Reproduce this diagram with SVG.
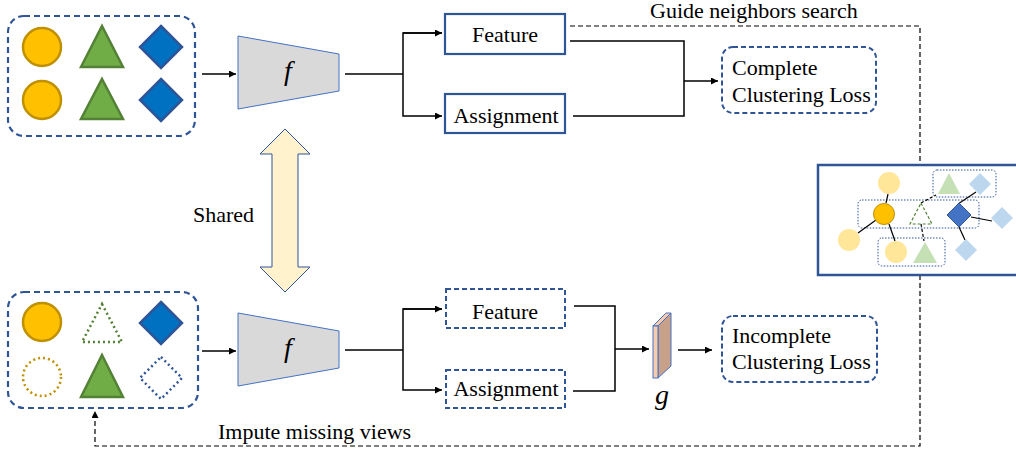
<svg xmlns="http://www.w3.org/2000/svg" width="1016" height="453" viewBox="0 0 1016 453" font-family="'Liberation Serif', 'Times New Roman', serif">
<defs>
<marker id="ah" viewBox="0 0 10 10" refX="10" refY="5" markerWidth="7" markerHeight="7" markerUnits="userSpaceOnUse" orient="auto"><path d="M0,0 L10,5 L0,10 z" fill="#000"/></marker>
<style>
text{font-family:'Liberation Serif','Times New Roman',serif;font-size:22px;fill:#000}
text.it{font-style:italic;font-size:28px}
.grp{fill:none;stroke:#2F5597;stroke-width:2.2;stroke-dasharray:6,4}
.sbox{fill:#fff;stroke:#2F5597;stroke-width:2.2}
.dbox{fill:#fff;stroke:#2F5597;stroke-width:2;stroke-dasharray:5,3}
.circ{fill:#FFC000;stroke:#BF9000;stroke-width:2.5}
.tri{fill:#70AD47;stroke:#538135;stroke-width:2.5}
.dia{fill:#0070C0;stroke:#2F5597;stroke-width:2.5}
.dcirc{fill:none;stroke:#BF9000;stroke-width:2.5;stroke-dasharray:2,3}
.dtri{fill:none;stroke:#538135;stroke-width:2.5;stroke-dasharray:2,3}
.ddia{fill:none;stroke:#2F5597;stroke-width:2.5;stroke-dasharray:2,3}
.trap{fill:#D9D9D9;stroke:#4472C4;stroke-width:1}
.ln{fill:none;stroke:#000;stroke-width:1.5}
.dl{fill:none;stroke:#000;stroke-width:1.2;stroke-dasharray:5,3}
.ly{fill:#FFE699}
.lg{fill:#C5E0B4}
.lb{fill:#BDD7EE}
.dr{fill:none;stroke:#2F5597;stroke-width:1;stroke-dasharray:1.5,1.5}
.gl{stroke:#000;stroke-width:1.2}
.gd{stroke:#000;stroke-width:1.2;stroke-dasharray:3,2}
</style>
</defs>

<g id="connectors">
<line class="ln" x1="202" y1="74" x2="236" y2="74" marker-end="url(#ah)"/>
<polyline class="ln" points="345,74 403,74"/>
<polyline class="ln" points="442,33 403,33 403,116 442,116" marker-end="url(#ah)"/>
<line class="ln" x1="403" y1="33" x2="442" y2="33" marker-end="url(#ah)"/>
<polyline class="ln" points="570,41 684,41 684,116 573,116"/>
<line class="ln" x1="684" y1="81" x2="718" y2="81" marker-end="url(#ah)"/>
<polyline class="dl" points="570,26 920,26 920,165"/>
<polyline class="dl" points="920,275 920,446 95,446 95,411" marker-end="url(#ah)"/>
<line class="ln" x1="202" y1="351" x2="236" y2="351" marker-end="url(#ah)"/>
<polyline class="ln" points="345,350 403,350"/>
<polyline class="ln" points="442,309 403,309 403,390 442,390" marker-end="url(#ah)"/>
<line class="ln" x1="403" y1="309" x2="442" y2="309" marker-end="url(#ah)"/>
<polyline class="ln" points="574,306 615,306 615,391 573,391"/>
<line class="ln" x1="615" y1="349" x2="649" y2="349" marker-end="url(#ah)"/>
<line class="ln" x1="678" y1="350" x2="712" y2="350" marker-end="url(#ah)"/>
<text x="650" y="18" font-family="'Liberation Serif', serif" font-size="22">Guide neighbors search</text>
<text x="218" y="439" font-family="'Liberation Serif', serif" font-size="22">Impute missing views</text>
</g>

<g id="input-complete">
<rect class="grp" x="8" y="16" width="187" height="120" rx="16"/>
<circle class="circ" cx="42" cy="47" r="19"/>
<polygon class="tri" points="102,26 123,67 81,67"/>
<polygon class="dia" points="161,26 182,47 161,68 140,47"/>
<circle class="circ" cx="42" cy="100" r="19"/>
<polygon class="tri" points="102,79 123,119 81,119"/>
<polygon class="dia" points="161,79 182,100 161,121 140,100"/>
</g>

<g id="input-incomplete">
<rect class="grp" x="8" y="292" width="190" height="116" rx="16"/>
<circle class="circ" cx="42" cy="322" r="19"/>
<polygon class="dtri" points="102,304 122,342 82,342"/>
<polygon class="dia" points="161,302 182,323 161,344 140,323"/>
<circle class="dcirc" cx="42" cy="377" r="19"/>
<polygon class="tri" points="102,355 123,397 81,397"/>
<polygon class="ddia" points="161,357 182,378 161,399 140,378"/>
</g>

<g id="encoder-top">
<polygon class="trap" points="238,36 339,54 339,91 238,109"/>
<text class="it" x="288" y="80" text-anchor="middle" font-family="'Liberation Serif', serif" font-style="italic" font-size="28">f</text>
</g>
<g id="encoder-bottom">
<polygon class="trap" points="238,313 339,331 339,368 238,386"/>
<text class="it" x="288" y="357" text-anchor="middle" font-family="'Liberation Serif', serif" font-style="italic" font-size="28">f</text>
</g>

<g id="shared">
<polygon points="285,129 310,154 298,154 298,267 310,267 285,292 260,267 272,267 272,154 260,154" fill="#FFF2CC" stroke="#2F5597" stroke-width="1"/>
<text x="193" y="222" font-family="'Liberation Serif', serif" font-size="22">Shared</text>
</g>

<g id="feature-top">
<rect class="sbox" x="445" y="14" width="120" height="40"/>
<text x="505" y="42" text-anchor="middle" font-family="'Liberation Serif', serif" font-size="22">Feature</text>
</g>
<g id="assignment-top">
<rect class="sbox" x="445" y="94" width="120" height="39"/>
<text x="506" y="123" text-anchor="middle" font-family="'Liberation Serif', serif" font-size="22">Assignment</text>
</g>
<g id="complete-loss">
<rect class="dbox" x="722" y="47" width="154" height="66" rx="11"/>
<text x="732" y="75" font-family="'Liberation Serif', serif" font-size="22">Complete</text>
<text x="732" y="102" font-family="'Liberation Serif', serif" font-size="22">Clustering Loss</text>
</g>

<g id="feature-bottom">
<rect class="dbox" x="446" y="289" width="119" height="39"/>
<text x="505" y="319" text-anchor="middle" font-family="'Liberation Serif', serif" font-size="22">Feature</text>
</g>
<g id="assignment-bottom">
<rect class="dbox" x="446" y="370" width="119" height="38"/>
<text x="506" y="396" text-anchor="middle" font-family="'Liberation Serif', serif" font-size="22">Assignment</text>
</g>

<g id="g-block">
<polygon points="653,326 658,326 671,313 666,313" fill="#F8CBAD" stroke="#4472C4" stroke-width="1"/>
<polygon points="658,326 671,313 671,366 658,378" fill="#C9A08A" stroke="#4472C4" stroke-width="1"/>
<rect x="653" y="326" width="5" height="52" fill="#F8CBAD" stroke="#4472C4" stroke-width="1"/>
<text class="it" x="662" y="404" text-anchor="middle" font-family="'Liberation Serif', serif" font-style="italic" font-size="28">g</text>
</g>

<g id="incomplete-loss">
<rect class="dbox" x="722" y="316" width="155" height="66" rx="11"/>
<text x="732" y="343" font-family="'Liberation Serif', serif" font-size="22">Incomplete</text>
<text x="732" y="369" font-family="'Liberation Serif', serif" font-size="22">Clustering Loss</text>
</g>

<g id="neighbor-graph">
<rect x="818" y="165" width="200" height="110" fill="#fff" stroke="#2F5597" stroke-width="2.5"/>
<rect class="dr" x="933" y="170" width="63" height="27" rx="4"/>
<rect class="dr" x="858" y="200" width="121" height="28" rx="4"/>
<rect class="dr" x="878" y="238" width="67" height="28" rx="4"/>
<line class="gl" x1="888" y1="194" x2="886" y2="203"/>
<line class="gl" x1="876" y1="220" x2="858" y2="233"/>
<line class="gl" x1="889" y1="224" x2="895" y2="241"/>
<line class="gl" x1="971" y1="217" x2="992" y2="221"/>
<line class="gl" x1="958" y1="204" x2="976" y2="192"/>
<line class="gl" x1="959" y1="227" x2="965" y2="240"/>
<line class="gd" x1="921" y1="203" x2="936" y2="195"/>
<line class="gd" x1="921" y1="224" x2="924" y2="241"/>
<circle class="ly" cx="889" cy="183" r="11"/>
<circle class="ly" cx="849" cy="240" r="11"/>
<circle class="ly" cx="896" cy="252" r="11"/>
<circle cx="884" cy="214" r="10.5" fill="#FFC000" stroke="#BF9000" stroke-width="1"/>
<polygon class="lg" points="949,173 960,194 938,194"/>
<polygon class="lg" points="925,242 937,263 913,263"/>
<polygon points="921,203 932,224 910,224" fill="none" stroke="#538135" stroke-width="1.2" stroke-dasharray="3,2"/>
<polygon class="lb" points="980,173 991,184 980,195 969,184"/>
<polygon class="lb" points="1002,207 1013,218 1002,229 991,218"/>
<polygon class="lb" points="966,239 977,250 966,261 955,250"/>
<polygon points="959,203 971,215 959,227 947,215" fill="#4472C4" stroke="#2F5597" stroke-width="1"/>
</g>
</svg>
